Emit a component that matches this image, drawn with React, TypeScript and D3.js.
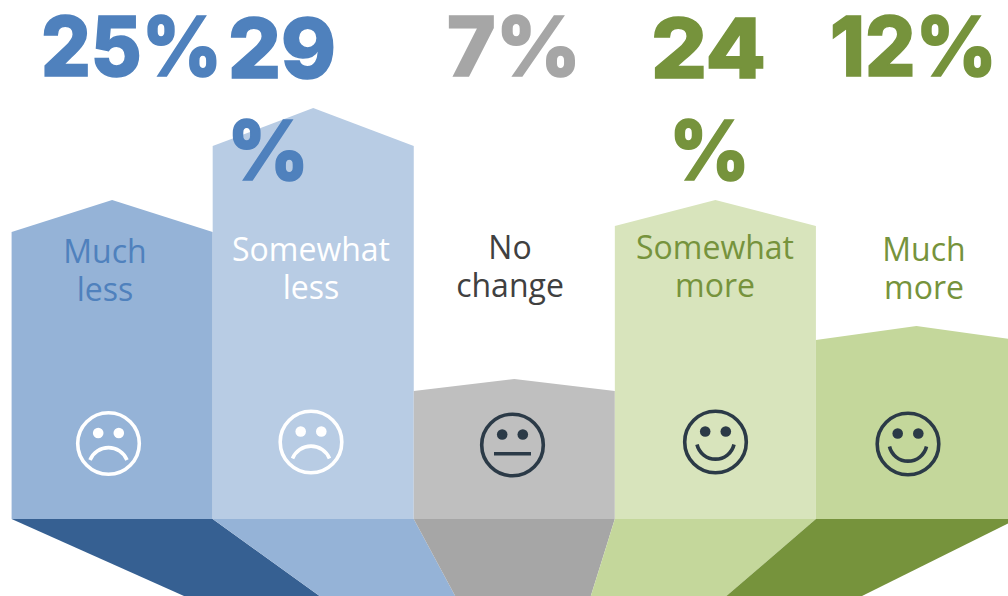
import React from "react"
import * as d3 from "d3"

const categories = ["Much less", "Somewhat less", "No change", "Somewhat more", "Much more"]
const values = [25, 29, 7, 24, 12]
// heights above the base line
const shoulderHeights = [287, 373, 128, 293, 179]
const peakHeights = [319, 411, 140, 319, 193]
const moods = ["sad", "sad", "flat", "happy", "happy"]

const barColors = ["#95b3d7", "#b8cce4", "#bfbfbf", "#d8e4bc", "#c4d79b"]
const floorColors = ["#366092", "#95b3d7", "#a6a6a6", "#c4d79b", "#76933c"]
const valueColors = ["#4f81bd", "#4f81bd", "#a6a6a6", "#76933c", "#76933c"]
const labelColors = ["#4f81bd", "#ffffff", "#404040", "#76933c", "#76933c"]
const faceColors = ["#ffffff", "#ffffff", "#2b3a47", "#2b3a47", "#2b3a47"]

// the big numbers wrap in the narrow boxes
const valueLines = [["25%"], ["29", "%"], ["7%"], ["24", "%"], ["12%"]]
const valueWidths = [[181], [108, 82], [134], [115, 81], [167]]
const valueLeft = [[41], [228, 227], [447], [651, 669], [830]]
const valueBase = [[76], [78, 180], [76], [78, 180], [76]]

const labelLines = [["Much", "less"], ["Somewhat", "less"], ["No", "change"], ["Somewhat", "more"], ["Much", "more"]]
const labelX = [105, 311, 510, 715, 924]
const labelBase = [263, 261, 259, 259, 261]
const faceX = [108.5, 311, 512.5, 715.5, 908]
const faceY = [443.5, 442, 445, 442, 444]

const width = 1008
const height = 596
const baseY = 519

const x = d3.scaleLinear().domain([0, 5]).range([11.6, 1017])
const floorX = d3.scaleLinear().domain([0, 5]).range([184, 862])
const y = d3.scaleLinear().domain([0, baseY]).range([baseY, 0])
const line = d3.line()

const Face = ({ cx, cy, mood, color }: { cx: number; cy: number; mood: string; color: string }) => {
  const mouth =
    mood === "sad"
      ? "M-18.5,16.5A20,20 0 0 1 18.5,16.5"
      : mood === "happy"
      ? "M-18.5,2.5A19,19 0 0 0 18.5,2.5"
      : "M-18.5,8.7L18.5,8.7"
  return (
    <g transform={`translate(${cx},${cy})`} fill="none" stroke={color} strokeWidth={3.6}>
      <circle r={30.8} />
      <circle cx={-10.3} cy={-10.5} r={5.3} fill={color} stroke="none" />
      <circle cx={10.3} cy={-10.5} r={5.3} fill={color} stroke="none" />
      <path d={mouth} />
    </g>
  )
}

const App = () => {
  return (
    <svg
      width={width}
      height={height}
      viewBox={`0 0 ${width} ${height}`}
      style={{ position: "fixed", left: 0, top: 0, background: "#fff" }}
    >
      {categories.map((c, i) => (
        <g key={c + i}>
          <path
            d={line([
              [x(i), baseY],
              [x(i + 1), baseY],
              [floorX(i + 1), height],
              [floorX(i), height],
            ])!}
            fill={floorColors[i]}
          />
          <path
            d={line([
              [x(i), y(0)],
              [x(i), y(shoulderHeights[i])],
              [x(i + 0.5), y(peakHeights[i])],
              [x(i + 1), y(shoulderHeights[i])],
              [x(i + 1), y(0)],
            ])!}
            fill={barColors[i]}
          />
        </g>
      ))}
      {categories.map((c, i) => (
        <g key={"t" + c + i}>
          <Face cx={faceX[i]} cy={faceY[i]} mood={moods[i]} color={faceColors[i]} />
          <text
            textAnchor="middle"
            fontFamily="'Open Sans'"
            fontSize={32}
            fill={labelColors[i]}
          >
            {labelLines[i].map((t, j) => (
              <tspan key={j} x={labelX[i]} y={labelBase[i] + j * 38}>
                {t}
              </tspan>
            ))}
          </text>
          {valueLines[i].map((t, j) => (
            <text
              key={j}
              x={valueLeft[i][j]}
              y={valueBase[i][j]}
              fontFamily="Inter"
              fontWeight={800}
              fontSize={83}
              fill={valueColors[i]}
              stroke={valueColors[i]}
              strokeWidth={1.6}
              textLength={valueWidths[i][j]}
              lengthAdjust="spacingAndGlyphs"
              data-value={values[i]}
            >
              {t}
            </text>
          ))}
        </g>
      ))}
    </svg>
  )
}

export default App
